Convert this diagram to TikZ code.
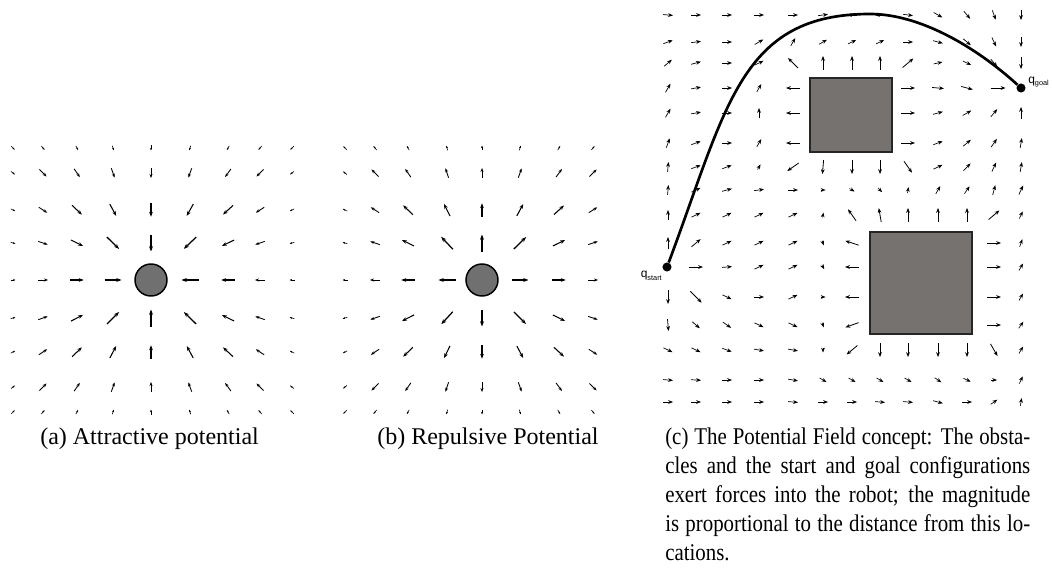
\documentclass[tikz,border=0pt]{standalone}
\usepackage{fontspec}
\setmainfont{Liberation Serif}
\newfontfamily\capcfont[FakeStretch=0.87]{Liberation Serif}
\newfontfamily\lblfont{Liberation Sans}
\usetikzlibrary{arrows.meta}
\definecolor{obsfill}{RGB}{118,114,112}
\definecolor{circfill}{RGB}{112,112,112}
\begin{document}
\begin{tikzpicture}[x=0.75pt,y=-0.75pt,
  obst/.style={draw=black!85,line width=1pt,fill=obsfill,inner sep=0pt},
  robot/.style={circle,draw=black,line width=1.1pt,fill=circfill,minimum size=24pt,inner sep=0pt},
  qdot/.style={circle,fill=black,minimum size=6.8pt,inner sep=0pt},
  qlabel/.style={inner sep=0pt,font=\lblfont},
  caption/.style={inner sep=0pt,anchor=base west,font=\fontsize{18}{21.75}\selectfont},
  captionc/.style={inner sep=0pt,anchor=base west,font=\capcfont\fontsize{18}{21.75}\selectfont},
  pathline/.style={line width=2pt},
]
\useasboundingbox (0,0) rectangle (1052,574);

% ---------------- (a) attractive ----------------
\node[robot] (ga) at (151,280) {};
\foreach \i/\x in {-4/13,-3/43,-2/77,-1/113,0/151,1/190,2/228,3/260,4/292}{
  \foreach \j/\y in {-4/148,-3/173,-2/210,-1/243,0/280,1/318,2/352,3/387,4/412}{
    \pgfmathtruncatemacro\d{max(abs(\i),abs(\j))}
    \ifnum\d>0
      \pgfmathsetmacro\L{{0,17,13.5,10,5}[\d]}
      \pgfmathsetmacro\W{{0,0.95,0.8,0.65,0.45}[\d]}
      \pgfmathsetmacro\T{{0,4,3.6,3,2}[\d]}
      \pgfmathsetmacro\ang{atan2(280-\y,151-\x)}
      \draw[line width=\W pt,-{Stealth[length=\T pt,width=0.75*\T pt]}]
        ({\x-0.5*\L*cos(\ang)},{\y-0.5*\L*sin(\ang)}) -- ({\x+0.5*\L*cos(\ang)},{\y+0.5*\L*sin(\ang)});
    \fi
  }}

% ---------------- (b) repulsive ----------------
\node[robot] (gb) at (482,280) {};
\foreach \i/\x in {-4/345,-3/375,-2/408,-1/447,0/482,1/520,2/559,3/593}{
  \foreach \j/\y in {-4/148,-3/173,-2/210,-1/243,0/280,1/318,2/352,3/387,4/412}{
    \pgfmathtruncatemacro\d{max(abs(\i),abs(\j))}
    \ifnum\d>0
      \pgfmathsetmacro\L{{0,17,13.5,10,5}[\d]}
      \pgfmathsetmacro\W{{0,0.95,0.8,0.65,0.45}[\d]}
      \pgfmathsetmacro\T{{0,4,3.6,3,2}[\d]}
      \pgfmathsetmacro\ang{atan2(\y-280,\x-482)}
      \draw[line width=\W pt,-{Stealth[length=\T pt,width=0.75*\T pt]}]
        ({\x-0.5*\L*cos(\ang)},{\y-0.5*\L*sin(\ang)}) -- ({\x+0.5*\L*cos(\ang)},{\y+0.5*\L*sin(\ang)});
    \fi
  }}

% ---------------- (c) potential field ----------------
\node[obst,minimum width=61.5pt,minimum height=55.5pt] (obs1) at (851,115) {};
\node[obst,minimum width=76.5pt,minimum height=76.5pt] (obs2) at (921,283) {};

\foreach \x/\y/\a/\l in {
668/15/-5/10, 696/15/0/10, 727/15/0/10, 759/15/0/10, 793/15/0/10, 823/15/8/10, 852/15/180/10, 880/15/180/10, 908/15/-8/10, 938/15/-30/10, 967/15/-50/10, 994/15/-70/10, 1021/15/-90/10,
668/42/20/10, 696/42/8/10, 727/42/0/10, 759/42/30/10, 793/42/60/9, 823/42/30/9, 852/42/25/9, 880/42/25/9, 908/42/0/10, 938/42/-15/10, 967/42/-40/10, 994/42/-65/10, 1021/42/-90/10,
668/63/40/10, 696/63/15/10, 727/63/0/10, 759/63/25/10, 793/63/135/14, 823/63/90/14, 852/63/90/14, 880/63/90/14, 908/63/40/14, 938/63/12/9, 967/63/-25/9, 994/63/-50/10, 1021/63/-90/12,
668/88/60/10, 696/88/10/10, 727/88/0/10, 759/88/60/9, 793/88/180/14, 908/88/0/14, 938/88/-5/12, 967/88/-15/12, 998/88/0/15,
668/113/60/10, 696/113/10/10, 727/113/0/10, 759/113/90/10, 793/113/180/14, 908/113/0/14, 938/113/15/10, 967/113/30/10, 994/113/50/10, 1021/113/90/12,
668/143/70/10, 696/143/20/10, 727/143/0/10, 759/143/60/9, 793/143/180/14, 908/143/0/14, 938/143/20/10, 967/143/40/10, 994/143/55/10, 1021/143/80/10,
668/167/85/10, 696/167/20/10, 727/167/20/10, 759/167/60/6, 793/167/-145/14, 823/167/-95/14, 852/167/-90/14, 880/167/-90/14, 908/167/-55/14, 938/167/25/10, 967/167/45/10, 994/167/65/10, 1021/167/80/10,
668/190/85/10, 696/190/25/10, 727/190/15/10, 759/190/8/10, 793/190/0/10, 823/190/0/5, 852/190/-30/6, 880/190/-45/6, 908/190/80/6, 938/190/60/9, 967/190/55/9, 994/190/75/10, 1021/190/65/10,
668/215/90/10, 696/215/25/10, 727/215/25/10, 759/215/25/10, 793/215/25/10, 823/215/80/5, 852/215/125/14, 880/215/100/14, 908/215/90/14, 938/215/90/14, 967/215/90/14, 994/215/40/14, 1021/215/65/8,
668/243/90/12, 696/243/40/12, 727/243/25/10, 759/243/25/10, 793/243/25/10, 823/243/-70/5, 852/243/162/14, 994/243/0/14, 1021/243/70/8,
696/267/0/14, 727/267/5/10, 759/267/25/10, 793/267/25/10, 823/267/-60/5, 852/267/180/14, 994/267/0/14, 1021/267/60/8,
668/297/-90/14, 696/297/-45/16, 727/297/-25/10, 759/297/0/10, 793/297/25/10, 823/297/0/5, 852/297/180/14, 994/297/0/14, 1021/297/60/8,
668/325/-85/12, 696/325/-40/10, 727/325/-35/10, 759/325/-25/10, 793/325/-25/10, 823/325/-70/5, 852/325/200/14, 994/325/0/14, 1021/325/55/8,
668/350/-25/10, 696/350/-25/10, 727/350/-20/10, 759/350/-10/10, 793/350/-10/10, 823/350/-90/5, 852/350/-140/14, 880/350/-90/14, 908/350/-90/14, 938/350/-90/14, 967/350/-90/14, 994/350/-60/14, 1021/350/60/8,
668/380/-5/10, 696/380/-3/10, 727/380/0/10, 759/380/0/10, 793/380/-10/10, 823/380/-30/8, 852/380/-30/8, 880/380/-30/8, 908/380/-30/8, 938/380/-35/8, 967/380/-25/8, 994/380/0/6, 1021/380/65/8,
668/402/0/10, 696/402/0/10, 727/402/0/10, 759/402/0/10, 793/402/-5/10, 823/402/0/10, 852/402/0/10, 880/402/-5/10, 908/402/-5/10, 938/402/-15/10, 967/402/0/10, 994/402/35/8, 1021/402/80/8}{
  \pgfmathsetmacro\W{0.3+0.022*\l}
  \draw[line width=\W pt,-{Stealth[length=3.6pt,width=2.8pt]}]
    ({\x-0.5*\l*cos(\a)},{\y+0.5*\l*sin(\a)}) -- ({\x+0.5*\l*cos(\a)},{\y-0.5*\l*sin(\a)});
}

\node[qdot] (qs) at (667,267) {};
\node[qdot] (qg) at (1021,88) {};
\coordinate (peak) at (870,14);
\draw[pathline] (qs) .. controls (727,107) and (740,14) .. (peak)
                     .. controls (920,14) and (976,47) .. (qg);
\node[qlabel,anchor=east] (qsl) at (662,276) {\fontsize{9}{10}\selectfont q\raisebox{-1.8pt}{\fontsize{5.5}{6}\selectfont start}};
\node[qlabel,anchor=west] (qgl) at (1028,82) {\fontsize{9}{10}\selectfont q\raisebox{-1.8pt}{\fontsize{5.5}{6}\selectfont goal}};

% ---------------- captions ----------------
\node[caption] (capa) at (40,444) {(a) Attractive potential};
\node[caption] (capb) at (377,444) {(b) Repulsive Potential};
\node[captionc] (capc1) at (665,444) {\makebox[273.75pt][s]{(c) The Potential Field concept: The obsta-}};
\node[captionc] (capc2) at (665,473) {\makebox[273.75pt][s]{cles and the start and goal configurations}};
\node[captionc] (capc3) at (665,502) {\makebox[273.75pt][s]{exert forces into the robot; the magnitude}};
\node[captionc] (capc4) at (665,531) {\makebox[273.75pt][s]{is proportional to the distance from this lo-}};
\node[captionc] (capc5) at (665,560) {cations.};
\end{tikzpicture}
\end{document}
